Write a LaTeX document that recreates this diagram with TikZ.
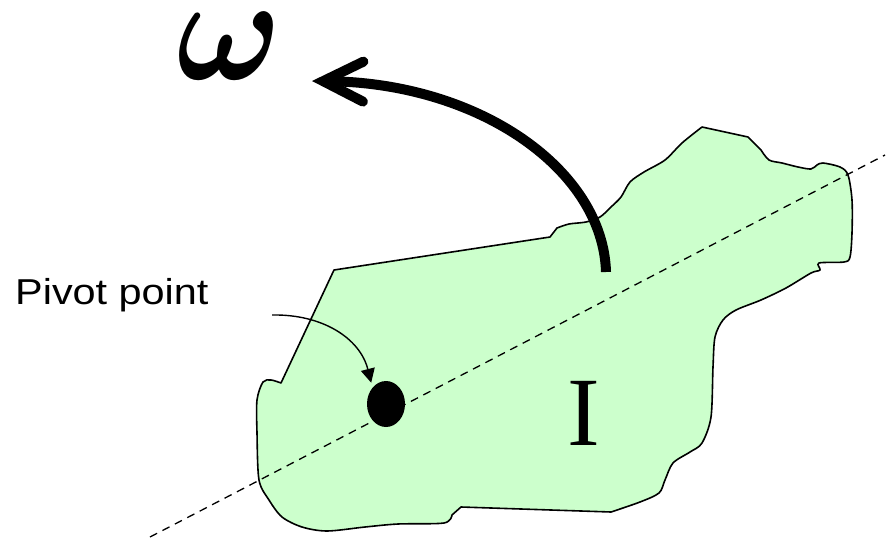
\documentclass[tikz,border=0pt]{standalone}
\usepackage{fontspec}
\setmainfont{Liberation Sans}
\newfontfamily\timesfont{Liberation Serif}
\usepackage{graphicx}
\usepackage{bm}
\usetikzlibrary{arrows.meta, shapes.geometric}
\definecolor{bodygreen}{RGB}{204,255,204}

\begin{document}
\begin{tikzpicture}[
    x=1pt, y=-1pt,
    blob/.style={draw, line width=1.6pt, fill=bodygreen, line join=round},
    axis/.style={line width=1.3pt, dash pattern=on 8pt off 6pt},
    pivotdot/.style={ellipse, fill=black, minimum width=38pt, minimum height=46pt, inner sep=0pt},
    spin/.style={line width=10pt, -{Straight Barb[length=40pt, width=40pt, line cap=round, line join=miter]}},
    pointer/.style={line width=1.4pt, -{Triangle[length=14pt, width=14pt]}}
  ]
  \useasboundingbox (0,0) rectangle (894,541);

  % rigid body
  \draw[blob] (334,270) -- (550,237)
    -- plot[smooth, tension=0.5] coordinates {(557,228) (569,224) (586,222) (600,217) (611,207)
      (621,197) (630,182) (644,172) (665,160) (682,143) (702,127)}
    -- (748,137)
    -- plot[smooth, tension=0.5] coordinates {(761,150) (769,160) (782,163) (798,167) (811,169)
      (817,165) (823,163) (840,167) (848,175) (852,200) (852,233) (850,257) (844,262) (819,263)
      (820,270) (811,273) (786,288) (761,300) (736,310) (723,320) (715,337) (713,367) (711,417)
      (702,443) (690,452) (673,463) (665,480) (659,493) (640,502) (611,512)}
    -- (461,507)
    -- plot[smooth, tension=0.5] coordinates {(452,515) (444,523) (398,524) (365,527) (327,531)
      (302,527) (282,517) (269,500) (259,480) (257,433) (257,400) (263,382) (271,380) (281,383)}
    -- cycle;

  % axis through the pivot
  \coordinate (axisS) at (150,537);
  \coordinate (axisE) at (885,155);
  \draw[axis] (axisS) -- (axisE);

  \node[pivotdot] (pivot) at (386,404) {};
  \node[anchor=base, inner sep=0pt, font=\timesfont\fontsize{98}{100}\selectfont] (inertia) at (584,445) {I};

  % labels and arrows
  \node[anchor=base west, inner sep=0pt, font=\fontsize{36}{40}\selectfont] (pivotlabel) at (15,304) {\scalebox{1.15}[1]{Pivot point}};
  \coordinate (tail) at (272,315);
  \draw[pointer, shorten >=5pt] (tail) .. controls (322,314) and (360,338) .. (pivot.north west);

  \node[anchor=base, inner sep=0pt] (omega) at (229,79) {\scalebox{14}[15]{$\bm{\omega}$}};
  \coordinate (spinbase) at (606,272);
  \coordinate (spintip) at (312,81);
  \draw[spin] (spinbase) .. controls (603,170) and (480,83) .. (spintip);
\end{tikzpicture}
\end{document}
